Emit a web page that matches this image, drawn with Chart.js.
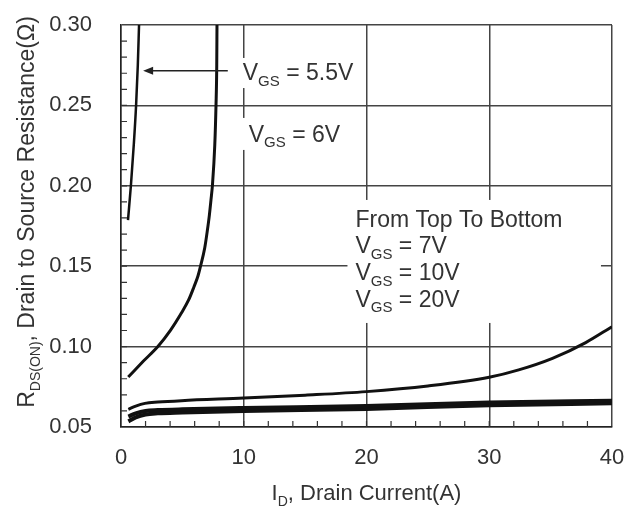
<!DOCTYPE html>
<html>
<head>
<meta charset="utf-8">
<script src="https://cdn.jsdelivr.net/npm/chart.js@4"></script>
<style>
  html, body { margin: 0; padding: 0; background: #fff; }
  #wrap { width: 640px; height: 509px; }
</style>
</head>
<body>
<div id="wrap"><canvas id="chart" width="640" height="509"></canvas></div>
<script>
// axis ticks
const xTicks = [0, 10, 20, 30, 40];
const yTicks = [0.05, 0.10, 0.15, 0.20, 0.25, 0.30];

// R_DS(on) curves
const vgs55X = [0.57, 0.81, 1.04, 1.23, 1.37, 1.47];
const vgs55Y = [0.1787, 0.2005, 0.2254, 0.2502, 0.2751, 0.30];

const vgs6X = [0.59, 1.83, 3.04, 4.04, 4.92, 5.51, 5.94, 6.27, 6.48, 6.82, 7.04, 7.20, 7.33, 7.45, 7.64, 7.74, 7.80, 7.82];
const vgs6Y = [0.0811, 0.0910, 0.1004, 0.1103, 0.1209, 0.1290, 0.1371, 0.1439, 0.1501, 0.1613, 0.1725, 0.1818, 0.1912, 0.2005, 0.2254, 0.2502, 0.2751, 0.30];

const vgs7X = [0.6, 1.2, 1.95, 3, 4.93, 10, 15, 20, 25, 30, 32.4, 35.15, 37.86, 40];
const vgs7Y = [0.061, 0.063, 0.0647, 0.0655, 0.0664, 0.068, 0.0698, 0.072, 0.0755, 0.0809, 0.0855, 0.0927, 0.1025, 0.1124];

const vgs10X = [0.6, 1.2, 2, 3, 5, 10, 20, 30, 40];
const vgs10Y = [0.0565, 0.0585, 0.0600, 0.0605, 0.061, 0.0618, 0.063, 0.0652, 0.0663];

const vgs20X = [0.6, 1.2, 2, 3, 5, 10, 20, 30, 40];
const vgs20Y = [0.0535, 0.0560, 0.0578, 0.0585, 0.059, 0.0600, 0.0612, 0.0636, 0.0647];

const FONT = '"Liberation Sans", Arial, sans-serif';
const TEXT = '#333';

function pts(xs, ys) {
    return xs.map((x, i) => ({ x: x, y: ys[i] }));
}

function curve(label, xs, ys, width) {
    return {
        label: label,
        data: pts(xs, ys),
        borderColor: '#111',
        borderWidth: width,
        pointRadius: 0,
        cubicInterpolationMode: 'monotone',
        fill: false
    };
}

// draws text made of normal and subscript pieces, returns the width
function drawRich(ctx, x, y, parts, size, subSize) {
    let cx = x;
    parts.forEach(([t, sub]) => {
        ctx.font = (sub ? subSize : size) + 'px ' + FONT;
        ctx.fillText(t, cx, sub ? y + size * 0.25 : y);
        cx += ctx.measureText(t).width;
    });
    return cx - x;
}

function richWidth(ctx, parts, size, subSize) {
    let w = 0;
    parts.forEach(([t, sub]) => {
        ctx.font = (sub ? subSize : size) + 'px ' + FONT;
        w += ctx.measureText(t).width;
    });
    return w;
}

// annotation placement (data units)
const whiteBoxes = [
    { x0: 9.6, x1: 19.0, y0: 0.2608, y1: 0.2795 },
    { x0: 9.6, x1: 18.2, y0: 0.2223, y1: 0.2422 },
    { x0: 18.45, x1: 39.1, y0: 0.1147, y1: 0.1912 }
];
const notes = [
    { x: 9.92, y: 0.2658, parts: [['V'], ['GS', 1], [' = 5.5V']] },
    { x: 10.41, y: 0.2274, parts: [['V'], ['GS', 1], [' = 6V']] },
    { x: 19.1, y: 0.1746, parts: [['From Top To Bottom']] },
    { x: 19.1, y: 0.158, parts: [['V'], ['GS', 1], [' = 7V']] },
    { x: 19.1, y: 0.1414, parts: [['V'], ['GS', 1], [' = 10V']] },
    { x: 19.1, y: 0.1248, parts: [['V'], ['GS', 1], [' = 20V']] }
];
const arrow = { from: 8.7, to: 1.8, y: 0.2716 };

const decorations = {
    id: 'decorations',
    beforeDatasetsDraw(chart) {
        const ctx = chart.ctx;
        const xs = chart.scales.x, ys = chart.scales.y;
        const area = chart.chartArea;
        ctx.save();
        // white patches behind the notes
        ctx.fillStyle = '#fff';
        whiteBoxes.forEach(b => {
            const l = xs.getPixelForValue(b.x0), r = xs.getPixelForValue(b.x1);
            const t = ys.getPixelForValue(b.y1), btm = ys.getPixelForValue(b.y0);
            ctx.fillRect(l, t, r - l, btm - t);
        });
        // minor ticks inside the frame
        ctx.strokeStyle = '#333';
        ctx.lineWidth = 1.2;
        ctx.beginPath();
        for (let v = 2; v < 40; v += 2) {
            const px = xs.getPixelForValue(v);
            ctx.moveTo(px, area.bottom);
            ctx.lineTo(px, area.bottom - 6);
        }
        for (let k = 6; k < 30; k++) {
            const py = ys.getPixelForValue(k / 100);
            ctx.moveTo(area.left, py);
            ctx.lineTo(area.left + 6, py);
        }
        ctx.stroke();
        ctx.restore();
    },
    afterDatasetsDraw(chart) {
        const ctx = chart.ctx;
        const xs = chart.scales.x, ys = chart.scales.y;
        const area = chart.chartArea;
        ctx.save();
        ctx.fillStyle = TEXT;
        ctx.textBaseline = 'alphabetic';
        ctx.textAlign = 'left';
        notes.forEach(n => {
            drawRich(ctx, xs.getPixelForValue(n.x), ys.getPixelForValue(n.y), n.parts, 23, 15);
        });

        // arrow to the 5.5V curve
        const ax0 = xs.getPixelForValue(arrow.from), ax1 = xs.getPixelForValue(arrow.to);
        const ay = ys.getPixelForValue(arrow.y);
        ctx.strokeStyle = '#222';
        ctx.lineWidth = 1.5;
        ctx.beginPath();
        ctx.moveTo(ax0, ay);
        ctx.lineTo(ax1 + 8, ay);
        ctx.stroke();
        ctx.fillStyle = '#222';
        ctx.beginPath();
        ctx.moveTo(ax1, ay);
        ctx.lineTo(ax1 + 10, ay - 4);
        ctx.lineTo(ax1 + 10, ay + 4);
        ctx.closePath();
        ctx.fill();

        // axis titles with subscripts
        ctx.fillStyle = TEXT;
        const xParts = [['I'], ['D', 1], [', Drain Current(A)']];
        const xw = richWidth(ctx, xParts, 22, 14);
        drawRich(ctx, (area.left + area.right) / 2 - xw / 2, 500, xParts, 22, 14);

        const yParts = [['R'], ['DS(ON)', 1], [', Drain to Source Resistance(\u03A9)']];
        const yw = richWidth(ctx, yParts, 23, 14);
        ctx.translate(34, 212);
        ctx.rotate(-Math.PI / 2);
        drawRich(ctx, -yw / 2, 0, yParts, 23, 14);
        ctx.restore();
    }
};

new Chart(document.getElementById('chart'), {
    type: 'line',
    data: {
        datasets: [
            curve('VGS = 5.5V', vgs55X, vgs55Y, 2.5),
            curve('VGS = 6V', vgs6X, vgs6Y, 3),
            curve('VGS = 7V', vgs7X, vgs7Y, 3),
            curve('VGS = 10V', vgs10X, vgs10Y, 4),
            curve('VGS = 20V', vgs20X, vgs20Y, 4)
        ]
    },
    options: {
        responsive: false,
        animation: false,
        layout: { padding: { top: 25, right: 28, left: 0, bottom: 0 } },
        plugins: {
            legend: { display: false },
            tooltip: { enabled: false }
        },
        scales: {
            x: {
                type: 'linear',
                min: 0,
                max: 40,
                afterBuildTicks: s => { s.ticks = xTicks.map(v => ({ value: v })); },
                afterFit: s => { s.height = 82; s.paddingLeft = 0; s.paddingRight = 0; },
                ticks: {
                    padding: 18,
                    color: TEXT,
                    font: { family: FONT, size: 22 },
                    callback: v => String(v)
                },
                grid: { color: '#444', lineWidth: 1.5, drawTicks: false },
                border: { color: '#222', width: 1.5 }
            },
            y: {
                type: 'linear',
                min: 0.05,
                max: 0.30,
                afterBuildTicks: s => { s.ticks = yTicks.map(v => ({ value: v })); },
                afterFit: s => { s.width = 121; s.paddingTop = 0; s.paddingBottom = 0; },
                ticks: {
                    padding: 29,
                    color: TEXT,
                    font: { family: FONT, size: 22 },
                    callback: v => Number(v).toFixed(2)
                },
                grid: { color: '#444', lineWidth: 1.5, drawTicks: false },
                border: { color: '#222', width: 1.5 }
            }
        }
    },
    plugins: [decorations]
});
</script>
</body>
</html>
